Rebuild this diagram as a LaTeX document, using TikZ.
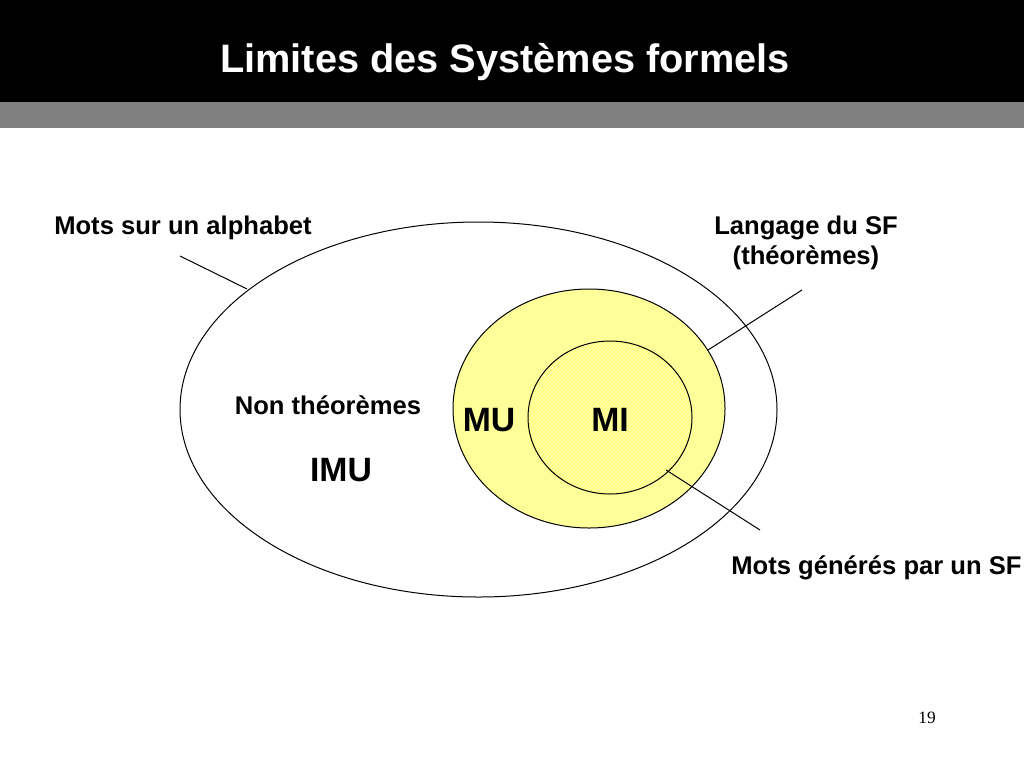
\documentclass[tikz,border=0pt]{standalone}
\usepackage{fontspec}
\setmainfont{Liberation Sans}
\newfontfamily\serifnum{Liberation Serif}
\usetikzlibrary{patterns}
\definecolor{outery}{HTML}{FFFF99}
\definecolor{innery}{HTML}{FFFF85}
\definecolor{hatchy}{HTML}{FFFFC0}
\definecolor{barg}{HTML}{808080}
\begin{document}
\begin{tikzpicture}[x=0.75pt,y=-0.75pt,
  lbl/.style={font=\bfseries\fontsize{19.2}{22.5}\selectfont, inner sep=0pt, align=center},
  big/.style={font=\bfseries\fontsize{25.3}{28}\selectfont, inner sep=0pt},
  conn/.style={draw=black, line width=0.75pt}]
\useasboundingbox (0,0) rectangle (1024,768);
\fill[white] (0,0) rectangle (1024,768);
\fill[black] (0,0) rectangle (1024,102);
\fill[barg] (0,102) rectangle (1024,128);
\node[font=\bfseries\fontsize{29.8}{32}\selectfont, text=white, inner sep=0pt] (title) at (505,62) {Limites des Systèmes formels};
% ellipses
\draw[line width=0.75pt] (478.5,409.5) ellipse [x radius=298.5, y radius=187.5];
\draw[line width=0.75pt, fill=outery] (589,408.5) ellipse [x radius=136, y radius=119.5];
\fill[innery] (610,417.5) ellipse [x radius=82, y radius=76.5];
\fill[pattern=north east lines, pattern color=hatchy] (610,417.5) ellipse [x radius=81, y radius=75.5];
\draw[line width=0.75pt] (610,417.5) ellipse [x radius=82, y radius=76.5];
% labels
\node[lbl] (alpha) at (183,228) {Mots sur un alphabet};
\node[lbl] (lang) at (806,243) {Langage du SF\\(théorèmes)};
\node[lbl] (gen) at (876.5,568) {Mots générés par un SF};
\node[lbl] (nonth) at (328,405) {Non théorèmes};
\node[big] (imu) at (341,470) {IMU};
\node[big] (mu) at (489,420) {MU};
\node[big] (mi) at (610,420) {MI};
\node[font=\serifnum\fontsize{13}{15}\selectfont, inner sep=0pt] (pg) at (927,718) {19};
% connectors
\coordinate (a1) at (180,256); \coordinate (a2) at (247,289);
\coordinate (b1) at (802,290); \coordinate (b2) at (708,350);
\coordinate (c1) at (666,470); \coordinate (c2) at (760,530);
\draw[conn] (a1) -- (a2);
\draw[conn] (b1) -- (b2);
\draw[conn] (c1) -- (c2);
\end{tikzpicture}
\end{document}
